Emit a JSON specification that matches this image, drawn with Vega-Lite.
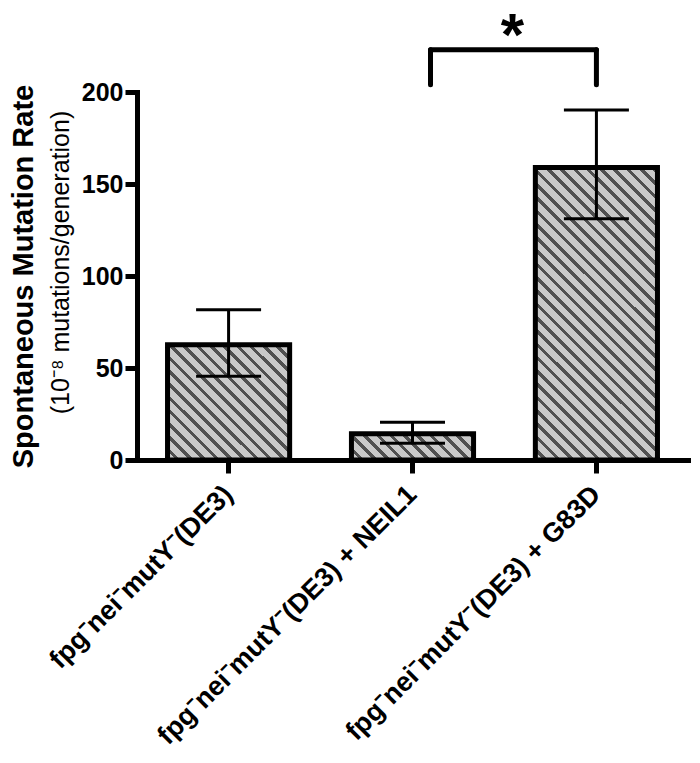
{
  "$schema": "https://vega.github.io/schema/vega-lite/v6.json",
  "width": 551,
  "height": 368,
  "autosize": {"type": "none"},
  "padding": {"left": 137, "top": 92, "right": 12, "bottom": 303},
  "background": "white",
  "config": {
    "view": {"stroke": null},
    "font": "Liberation Sans",
    "axis": {"labelFont": "Liberation Sans", "titleFont": "Liberation Sans", "domainColor": "black", "tickColor": "black", "labelColor": "black", "titleColor": "black", "grid": false}
  },
  "datasets": {
    "main": [
      {"strain": "fpg⁻nei⁻mutY⁻(DE3)", "rate": 62.7, "lo": 45.5, "hi": 81.7},
      {"strain": "fpg⁻nei⁻mutY⁻(DE3) + NEIL1", "rate": 14.2, "lo": 9.1, "hi": 20.5},
      {"strain": "fpg⁻nei⁻mutY⁻(DE3) + G83D", "rate": 159, "lo": 131.1, "hi": 190.2}
    ],
    "bracket": [
      {"a": "fpg⁻nei⁻mutY⁻(DE3) + NEIL1", "b": "fpg⁻nei⁻mutY⁻(DE3) + G83D", "top": 223, "bot": 204, "star": 220, "label": "*"}
    ]
  },
  "layer": [
    {
      "data": {"name": "main"},
      "layer": [
        {
          "transform": [{"filter": {"field": "strain", "equal": "fpg⁻nei⁻mutY⁻(DE3)"}}],
          "mark": {"type": "bar", "stroke": "black", "strokeWidth": 5, "fill": {"gradient": "linear", "x1": 0, "y1": 1, "x2": 1.8403, "y2": -0.7408, "stops": [
            {"offset":0,"color":"#c9c9c9"},{"offset":0.02031,"color":"#c9c9c9"},{"offset":0.02031,"color":"#505050"},{"offset":0.03125,"color":"#505050"},
            {"offset":0.03125,"color":"#c9c9c9"},{"offset":0.05156,"color":"#c9c9c9"},{"offset":0.05156,"color":"#505050"},{"offset":0.0625,"color":"#505050"},
            {"offset":0.0625,"color":"#c9c9c9"},{"offset":0.08281,"color":"#c9c9c9"},{"offset":0.08281,"color":"#505050"},{"offset":0.09375,"color":"#505050"},
            {"offset":0.09375,"color":"#c9c9c9"},{"offset":0.11406,"color":"#c9c9c9"},{"offset":0.11406,"color":"#505050"},{"offset":0.125,"color":"#505050"},
            {"offset":0.125,"color":"#c9c9c9"},{"offset":0.14531,"color":"#c9c9c9"},{"offset":0.14531,"color":"#505050"},{"offset":0.15625,"color":"#505050"},
            {"offset":0.15625,"color":"#c9c9c9"},{"offset":0.17656,"color":"#c9c9c9"},{"offset":0.17656,"color":"#505050"},{"offset":0.1875,"color":"#505050"},
            {"offset":0.1875,"color":"#c9c9c9"},{"offset":0.20781,"color":"#c9c9c9"},{"offset":0.20781,"color":"#505050"},{"offset":0.21875,"color":"#505050"},
            {"offset":0.21875,"color":"#c9c9c9"},{"offset":0.23906,"color":"#c9c9c9"},{"offset":0.23906,"color":"#505050"},{"offset":0.25,"color":"#505050"},
            {"offset":0.25,"color":"#c9c9c9"},{"offset":0.27031,"color":"#c9c9c9"},{"offset":0.27031,"color":"#505050"},{"offset":0.28125,"color":"#505050"},
            {"offset":0.28125,"color":"#c9c9c9"},{"offset":0.30156,"color":"#c9c9c9"},{"offset":0.30156,"color":"#505050"},{"offset":0.3125,"color":"#505050"},
            {"offset":0.3125,"color":"#c9c9c9"},{"offset":0.33281,"color":"#c9c9c9"},{"offset":0.33281,"color":"#505050"},{"offset":0.34375,"color":"#505050"},
            {"offset":0.34375,"color":"#c9c9c9"},{"offset":0.36406,"color":"#c9c9c9"},{"offset":0.36406,"color":"#505050"},{"offset":0.375,"color":"#505050"},
            {"offset":0.375,"color":"#c9c9c9"},{"offset":0.39531,"color":"#c9c9c9"},{"offset":0.39531,"color":"#505050"},{"offset":0.40625,"color":"#505050"},
            {"offset":0.40625,"color":"#c9c9c9"},{"offset":0.42656,"color":"#c9c9c9"},{"offset":0.42656,"color":"#505050"},{"offset":0.4375,"color":"#505050"},
            {"offset":0.4375,"color":"#c9c9c9"},{"offset":0.45781,"color":"#c9c9c9"},{"offset":0.45781,"color":"#505050"},{"offset":0.46875,"color":"#505050"},
            {"offset":0.46875,"color":"#c9c9c9"},{"offset":0.48906,"color":"#c9c9c9"},{"offset":0.48906,"color":"#505050"},{"offset":0.5,"color":"#505050"},
            {"offset":0.5,"color":"#c9c9c9"},{"offset":0.52031,"color":"#c9c9c9"},{"offset":0.52031,"color":"#505050"},{"offset":0.53125,"color":"#505050"},
            {"offset":0.53125,"color":"#c9c9c9"},{"offset":0.55156,"color":"#c9c9c9"},{"offset":0.55156,"color":"#505050"},{"offset":0.5625,"color":"#505050"},
            {"offset":0.5625,"color":"#c9c9c9"},{"offset":0.58281,"color":"#c9c9c9"},{"offset":0.58281,"color":"#505050"},{"offset":0.59375,"color":"#505050"}
          ]}},
          "encoding": {
            "x": {"field": "strain", "type": "nominal", "title": null,
              "scale": {"domain": ["fpg⁻nei⁻mutY⁻(DE3)", "fpg⁻nei⁻mutY⁻(DE3) + NEIL1", "fpg⁻nei⁻mutY⁻(DE3) + G83D"], "paddingInner": 0.336, "paddingOuter": 0.166},
              "axis": {"orient": "bottom", "title": null, "labelAngle": -45, "labelAlign": "right", "labelBaseline": "middle", "labelFontSize": 27, "labelFontWeight": "bold", "labelPadding": 17, "labelLimit": 700, "tickSize": 13, "tickWidth": 5, "domainWidth": 5, "domainCap": "square"}},
            "y": {"field": "rate", "type": "quantitative", "scale": {"domain": [0, 200], "nice": false},
              "axis": {"orient": "left", "values": [0, 50, 100, 150, 200], "title": "(10⁻⁸ mutations/generation)", "titleFontSize": 25, "titleFontWeight": "normal", "titlePadding": 8, "titleY": 170, "labelFontSize": 25, "labelFontWeight": "bold", "labelPadding": 2, "tickSize": 12, "tickWidth": 5, "domainWidth": 5, "domainCap": "square"}}
          }
        },
        {
          "transform": [{"filter": {"field": "strain", "equal": "fpg⁻nei⁻mutY⁻(DE3) + NEIL1"}}],
          "mark": {"type": "bar", "stroke": "black", "strokeWidth": 5, "fill": {"gradient": "linear", "x1": 0, "y1": 1, "x2": 3.3343, "y2": 0.2867, "stops": [
            {"offset":0,"color":"#c9c9c9"},{"offset":0.02031,"color":"#c9c9c9"},{"offset":0.02031,"color":"#505050"},{"offset":0.03125,"color":"#505050"},
            {"offset":0.03125,"color":"#c9c9c9"},{"offset":0.05156,"color":"#c9c9c9"},{"offset":0.05156,"color":"#505050"},{"offset":0.0625,"color":"#505050"},
            {"offset":0.0625,"color":"#c9c9c9"},{"offset":0.08281,"color":"#c9c9c9"},{"offset":0.08281,"color":"#505050"},{"offset":0.09375,"color":"#505050"},
            {"offset":0.09375,"color":"#c9c9c9"},{"offset":0.11406,"color":"#c9c9c9"},{"offset":0.11406,"color":"#505050"},{"offset":0.125,"color":"#505050"},
            {"offset":0.125,"color":"#c9c9c9"},{"offset":0.14531,"color":"#c9c9c9"},{"offset":0.14531,"color":"#505050"},{"offset":0.15625,"color":"#505050"},
            {"offset":0.15625,"color":"#c9c9c9"},{"offset":0.17656,"color":"#c9c9c9"},{"offset":0.17656,"color":"#505050"},{"offset":0.1875,"color":"#505050"},
            {"offset":0.1875,"color":"#c9c9c9"},{"offset":0.20781,"color":"#c9c9c9"},{"offset":0.20781,"color":"#505050"},{"offset":0.21875,"color":"#505050"},
            {"offset":0.21875,"color":"#c9c9c9"},{"offset":0.23906,"color":"#c9c9c9"},{"offset":0.23906,"color":"#505050"},{"offset":0.25,"color":"#505050"},
            {"offset":0.25,"color":"#c9c9c9"},{"offset":0.27031,"color":"#c9c9c9"},{"offset":0.27031,"color":"#505050"},{"offset":0.28125,"color":"#505050"},
            {"offset":0.28125,"color":"#c9c9c9"},{"offset":0.30156,"color":"#c9c9c9"},{"offset":0.30156,"color":"#505050"},{"offset":0.3125,"color":"#505050"},
            {"offset":0.3125,"color":"#c9c9c9"},{"offset":0.33281,"color":"#c9c9c9"},{"offset":0.33281,"color":"#505050"},{"offset":0.34375,"color":"#505050"},
            {"offset":0.34375,"color":"#c9c9c9"},{"offset":0.36406,"color":"#c9c9c9"},{"offset":0.36406,"color":"#505050"},{"offset":0.375,"color":"#505050"},
            {"offset":0.375,"color":"#c9c9c9"},{"offset":0.39531,"color":"#c9c9c9"},{"offset":0.39531,"color":"#505050"},{"offset":0.40625,"color":"#505050"}
          ]}},
          "encoding": {
            "x": {"field": "strain", "type": "nominal", "title": null},
            "y": {"field": "rate", "type": "quantitative"}
          }
        },
        {
          "transform": [{"filter": {"field": "strain", "equal": "fpg⁻nei⁻mutY⁻(DE3) + G83D"}}],
          "mark": {"type": "bar", "stroke": "black", "strokeWidth": 5, "fill": {"gradient": "linear", "x1": 0, "y1": 1, "x2": 0.5164, "y2": -0.2385, "stops": [
            {"offset":0,"color":"#c9c9c9"},{"offset":0.02031,"color":"#c9c9c9"},{"offset":0.02031,"color":"#505050"},{"offset":0.03125,"color":"#505050"},
            {"offset":0.03125,"color":"#c9c9c9"},{"offset":0.05156,"color":"#c9c9c9"},{"offset":0.05156,"color":"#505050"},{"offset":0.0625,"color":"#505050"},
            {"offset":0.0625,"color":"#c9c9c9"},{"offset":0.08281,"color":"#c9c9c9"},{"offset":0.08281,"color":"#505050"},{"offset":0.09375,"color":"#505050"},
            {"offset":0.09375,"color":"#c9c9c9"},{"offset":0.11406,"color":"#c9c9c9"},{"offset":0.11406,"color":"#505050"},{"offset":0.125,"color":"#505050"},
            {"offset":0.125,"color":"#c9c9c9"},{"offset":0.14531,"color":"#c9c9c9"},{"offset":0.14531,"color":"#505050"},{"offset":0.15625,"color":"#505050"},
            {"offset":0.15625,"color":"#c9c9c9"},{"offset":0.17656,"color":"#c9c9c9"},{"offset":0.17656,"color":"#505050"},{"offset":0.1875,"color":"#505050"},
            {"offset":0.1875,"color":"#c9c9c9"},{"offset":0.20781,"color":"#c9c9c9"},{"offset":0.20781,"color":"#505050"},{"offset":0.21875,"color":"#505050"},
            {"offset":0.21875,"color":"#c9c9c9"},{"offset":0.23906,"color":"#c9c9c9"},{"offset":0.23906,"color":"#505050"},{"offset":0.25,"color":"#505050"},
            {"offset":0.25,"color":"#c9c9c9"},{"offset":0.27031,"color":"#c9c9c9"},{"offset":0.27031,"color":"#505050"},{"offset":0.28125,"color":"#505050"},
            {"offset":0.28125,"color":"#c9c9c9"},{"offset":0.30156,"color":"#c9c9c9"},{"offset":0.30156,"color":"#505050"},{"offset":0.3125,"color":"#505050"},
            {"offset":0.3125,"color":"#c9c9c9"},{"offset":0.33281,"color":"#c9c9c9"},{"offset":0.33281,"color":"#505050"},{"offset":0.34375,"color":"#505050"},
            {"offset":0.34375,"color":"#c9c9c9"},{"offset":0.36406,"color":"#c9c9c9"},{"offset":0.36406,"color":"#505050"},{"offset":0.375,"color":"#505050"},
            {"offset":0.375,"color":"#c9c9c9"},{"offset":0.39531,"color":"#c9c9c9"},{"offset":0.39531,"color":"#505050"},{"offset":0.40625,"color":"#505050"},
            {"offset":0.40625,"color":"#c9c9c9"},{"offset":0.42656,"color":"#c9c9c9"},{"offset":0.42656,"color":"#505050"},{"offset":0.4375,"color":"#505050"},
            {"offset":0.4375,"color":"#c9c9c9"},{"offset":0.45781,"color":"#c9c9c9"},{"offset":0.45781,"color":"#505050"},{"offset":0.46875,"color":"#505050"},
            {"offset":0.46875,"color":"#c9c9c9"},{"offset":0.48906,"color":"#c9c9c9"},{"offset":0.48906,"color":"#505050"},{"offset":0.5,"color":"#505050"},
            {"offset":0.5,"color":"#c9c9c9"},{"offset":0.52031,"color":"#c9c9c9"},{"offset":0.52031,"color":"#505050"},{"offset":0.53125,"color":"#505050"},
            {"offset":0.53125,"color":"#c9c9c9"},{"offset":0.55156,"color":"#c9c9c9"},{"offset":0.55156,"color":"#505050"},{"offset":0.5625,"color":"#505050"},
            {"offset":0.5625,"color":"#c9c9c9"},{"offset":0.58281,"color":"#c9c9c9"},{"offset":0.58281,"color":"#505050"},{"offset":0.59375,"color":"#505050"},
            {"offset":0.59375,"color":"#c9c9c9"},{"offset":0.61406,"color":"#c9c9c9"},{"offset":0.61406,"color":"#505050"},{"offset":0.625,"color":"#505050"},
            {"offset":0.625,"color":"#c9c9c9"},{"offset":0.64531,"color":"#c9c9c9"},{"offset":0.64531,"color":"#505050"},{"offset":0.65625,"color":"#505050"},
            {"offset":0.65625,"color":"#c9c9c9"},{"offset":0.67656,"color":"#c9c9c9"},{"offset":0.67656,"color":"#505050"},{"offset":0.6875,"color":"#505050"},
            {"offset":0.6875,"color":"#c9c9c9"},{"offset":0.70781,"color":"#c9c9c9"},{"offset":0.70781,"color":"#505050"},{"offset":0.71875,"color":"#505050"},
            {"offset":0.71875,"color":"#c9c9c9"},{"offset":0.73906,"color":"#c9c9c9"},{"offset":0.73906,"color":"#505050"},{"offset":0.75,"color":"#505050"},
            {"offset":0.75,"color":"#c9c9c9"},{"offset":0.77031,"color":"#c9c9c9"},{"offset":0.77031,"color":"#505050"},{"offset":0.78125,"color":"#505050"},
            {"offset":0.78125,"color":"#c9c9c9"},{"offset":0.80156,"color":"#c9c9c9"},{"offset":0.80156,"color":"#505050"},{"offset":0.8125,"color":"#505050"},
            {"offset":0.8125,"color":"#c9c9c9"},{"offset":0.83281,"color":"#c9c9c9"},{"offset":0.83281,"color":"#505050"},{"offset":0.84375,"color":"#505050"},
            {"offset":0.84375,"color":"#c9c9c9"},{"offset":0.86406,"color":"#c9c9c9"},{"offset":0.86406,"color":"#505050"},{"offset":0.875,"color":"#505050"},
            {"offset":0.875,"color":"#c9c9c9"},{"offset":0.89531,"color":"#c9c9c9"},{"offset":0.89531,"color":"#505050"},{"offset":0.90625,"color":"#505050"},
            {"offset":0.90625,"color":"#c9c9c9"},{"offset":0.92656,"color":"#c9c9c9"},{"offset":0.92656,"color":"#505050"},{"offset":0.9375,"color":"#505050"},
            {"offset":0.9375,"color":"#c9c9c9"},{"offset":0.95781,"color":"#c9c9c9"},{"offset":0.95781,"color":"#505050"},{"offset":0.96875,"color":"#505050"},
            {"offset":0.96875,"color":"#c9c9c9"},{"offset":0.98906,"color":"#c9c9c9"},{"offset":0.98906,"color":"#505050"},{"offset":1,"color":"#505050"}
          ]}},
          "encoding": {
            "x": {"field": "strain", "type": "nominal", "title": null},
            "y": {"field": "rate", "type": "quantitative"}
          }
        },
        {
          "mark": {"type": "rule", "color": "black", "strokeWidth": 3},
          "encoding": {
            "x": {"field": "strain", "type": "nominal", "title": null},
            "y": {"field": "lo", "type": "quantitative"},
            "y2": {"field": "hi"}
          }
        },
        {
          "mark": {"type": "tick", "color": "black", "size": 65, "thickness": 3, "opacity": 1},
          "encoding": {
            "x": {"field": "strain", "type": "nominal", "title": null},
            "y": {"field": "lo", "type": "quantitative"}
          }
        },
        {
          "mark": {"type": "tick", "color": "black", "size": 65, "thickness": 3, "opacity": 1},
          "encoding": {
            "x": {"field": "strain", "type": "nominal", "title": null},
            "y": {"field": "hi", "type": "quantitative"}
          }
        },
        {
          "data": {"name": "bracket"},
          "mark": {"type": "rule", "color": "black", "strokeWidth": 5, "strokeCap": "round", "xOffset": 18},
          "encoding": {
            "x": {"field": "a", "type": "nominal", "title": null},
            "x2": {"field": "b"},
            "y": {"field": "top", "type": "quantitative"}
          }
        },
        {
          "data": {"name": "bracket"},
          "mark": {"type": "rule", "color": "black", "strokeWidth": 5, "strokeCap": "round", "xOffset": 18},
          "encoding": {
            "x": {"field": "a", "type": "nominal", "title": null},
            "y": {"field": "bot", "type": "quantitative"},
            "y2": {"field": "top"}
          }
        },
        {
          "data": {"name": "bracket"},
          "mark": {"type": "rule", "color": "black", "strokeWidth": 5, "strokeCap": "round"},
          "encoding": {
            "x": {"field": "b", "type": "nominal", "title": null},
            "y": {"field": "bot", "type": "quantitative"},
            "y2": {"field": "top"}
          }
        },
        {
          "data": {"name": "bracket"},
          "mark": {"type": "text", "font": "Liberation Sans", "fontSize": 60, "fontWeight": "bold", "align": "center", "baseline": "alphabetic", "dx": 100, "color": "black"},
          "encoding": {
            "x": {"field": "a", "type": "nominal", "title": null},
            "y": {"field": "star", "type": "quantitative"},
            "text": {"field": "label"}
          }
        }
      ]
    },
    {
      "data": {"name": "main"},
      "mark": {"type": "point", "opacity": 0},
      "encoding": {
        "y": {"field": "rate", "type": "quantitative", "scale": {"domain": [0, 200], "nice": false},
          "axis": {"orient": "left", "title": "Spontaneous Mutation Rate", "titleFontSize": 29, "titleFontWeight": "bold", "titlePadding": 99, "labels": false, "ticks": false, "domain": false, "grid": false}}
      }
    }
  ],
  "resolve": {"scale": {"y": "independent"}}
}
